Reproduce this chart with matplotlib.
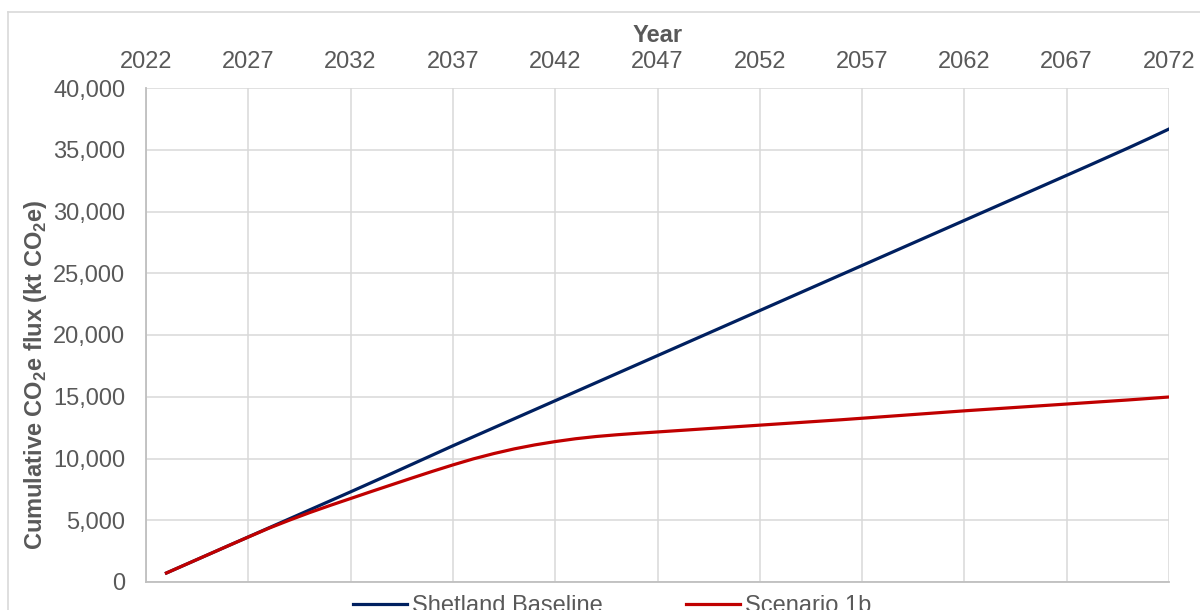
import matplotlib
matplotlib.use("Agg")
import matplotlib.pyplot as plt
from matplotlib.lines import Line2D

plt.rcParams['font.family'] = ['Liberation Sans', 'DejaVu Sans']
plt.rcParams['mathtext.fontset'] = 'custom'
plt.rcParams['mathtext.rm'] = 'Liberation Sans'
plt.rcParams['mathtext.bf'] = 'Liberation Sans:bold'

years = list(range(2023, 2073))
baseline = [730, 1460, 2190, 2920, 3650, 4380, 5110, 5840, 6570, 7300,
            8040, 8780, 9530, 10280, 11030, 11760, 12490, 13220, 13950, 14680,
            15410, 16140, 16870, 17600, 18330, 19060, 19790, 20520, 21250, 21980,
            22710, 23440, 24170, 24900, 25630, 26360, 27090, 27820, 28550, 29280,
            30010, 30740, 31470, 32200, 32930, 33660, 34400, 35140, 35900, 36680]
scenario_1b = [730, 1460, 2190, 2920, 3640, 4350, 5000, 5620, 6200, 6760,
               7320, 7870, 8420, 8960, 9480, 9970, 10400, 10780, 11100, 11370,
               11600, 11780, 11920, 12040, 12150, 12260, 12370, 12480, 12590, 12700,
               12810, 12920, 13030, 13140, 13260, 13380, 13500, 13620, 13740, 13860,
               13970, 14080, 14190, 14300, 14410, 14520, 14630, 14740, 14860, 14980]
x_ticks = list(range(2022, 2073, 5))
y_ticks = list(range(0, 40001, 5000))

grey_txt = '#595959'
fs = 17

fig = plt.figure(figsize=(12, 6.1), dpi=100)
ax = fig.add_axes([146/1200, 1 - 582/610, (1169 - 146)/1200, (582 - 88)/610])

ax.plot(years, baseline, color='#002060', lw=2.3, label='Shetland Baseline', zorder=3)
ax.plot(years, scenario_1b, color='#c00000', lw=2.3, label='Scenario 1b', zorder=3)

ax.set_xlim(2022, 2072)
ax.set_ylim(0, 40000)
ax.set_xticks(x_ticks)
ax.set_yticks(y_ticks)
ax.set_yticklabels([f'{v:,}' for v in y_ticks])
ax.xaxis.tick_top()
ax.xaxis.set_label_position('top')
ax.tick_params(axis='x', length=0, pad=11, labelsize=fs, labelcolor=grey_txt)
ax.tick_params(axis='y', length=0, pad=15, labelsize=fs, labelcolor=grey_txt)
ax.grid(True, color='#d9d9d9', lw=1.1)
ax.set_axisbelow(True)

for s in ['top', 'right']:
    ax.spines[s].set_visible(False)
for s in ['left', 'bottom']:
    ax.spines[s].set_color('#bfbfbf')
    ax.spines[s].set_linewidth(1.3)

ax.set_xlabel('Year', fontsize=fs, fontweight='bold', color=grey_txt, labelpad=6)
ax.set_ylabel(r'Cumulative CO$_\mathbf{2}$e flux (kt CO$_\mathbf{2}$e)',
              fontsize=fs, fontweight='bold', color=grey_txt)
ax.yaxis.set_label_coords(-0.0948, 0.419)

fig.legend(loc='center', bbox_to_anchor=(0.51, 1 - 606/610), ncol=2, frameon=False,
           fontsize=fs, handlelength=2.3, handletextpad=0.22, columnspacing=3.5,
           labelcolor=grey_txt)

# outer chart border
fig.add_artist(Line2D([8/1200, 1], [1 - 12/610, 1 - 12/610], color='#d9d9d9', lw=1.2,
                      transform=fig.transFigure))
fig.add_artist(Line2D([8/1200, 8/1200], [0, 1 - 12/610], color='#d9d9d9', lw=1.2,
                      transform=fig.transFigure))

fig.savefig('out.png', dpi=100)
